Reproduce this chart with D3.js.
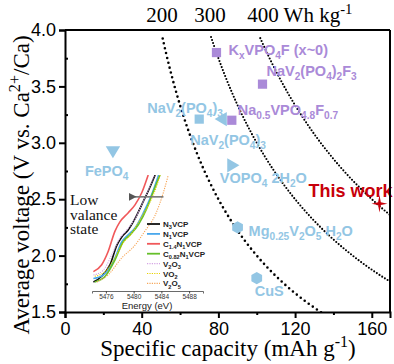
<!DOCTYPE html>
<html>
<head>
  <meta charset="utf-8">
  <title>Average voltage vs specific capacity</title>
  <script src="https://d3js.org/d3.v7.min.js"></script>
  <style>
    body { margin: 0; background: #fff; }
    svg text { font-family: "Liberation Sans", Arial, sans-serif; }
  </style>
</head>
<body>
<svg id="chart" width="394" height="364"></svg>
<script>
// ---- data ----
var materials = ['K_{x}VPO_{4}F (x~0)', 'NaV_{2}(PO_{4})_{2}F_{3}', 'Na_{0.5}VPO_{4.8}F_{0.7}',
                 'NaV_{2}(PO_{4})_{3}', 'NaV_{2}(PO_{4})_{3}', 'FePO_{4}', 'VOPO_{4} 2H_{2}O',
                 'Mg_{0.25}V_{2}O_{5} H_{2}O', 'CuS', 'This work'];
var capacity = [79, 103, 87, 70, 82, 25, 87, 90, 100, 164];   // mAh g-1
var voltage  = [3.80, 3.52, 3.20, 3.21, 3.21, 2.93, 2.80, 2.25, 1.80, 2.46]; // V
var family   = ['purple', 'purple', 'purple', 'blue', 'blue', 'blue', 'blue', 'blue', 'blue', 'red'];
var markers  = ['square', 'square', 'square', 'square', 'left', 'down', 'right', 'hex', 'hex', 'star'];

var energyLevels = [200, 300, 400];   // Wh kg-1 guide curves
var xTicks = [0, 40, 80, 120, 160];
var yTicks = [1.5, 2.0, 2.5, 3.0, 3.5, 4.0];

// inset XANES spectra (energy eV, normalised intensity)
var insetNames = ['N_{3}VCP', 'N_{1}VCP', 'C_{1.4}N_{1}VCP', 'C_{0.82}N_{1}VCP', 'V_{2}O_{3}', 'VO_{2}', 'V_{2}O_{5}'];
var insetE = [
  [5474.2, 5475.4, 5476.6, 5477.6, 5478.3, 5479.2, 5480.2, 5481.4, 5482.4, 5483.1],
  [5474.2, 5475.6, 5477.1, 5478.3, 5479.2, 5480.2, 5481.4, 5482.6, 5483.6],
  [5474.2, 5475.4, 5476.3, 5477.3, 5478.0, 5479.2, 5480.2, 5481.2, 5482.1],
  [5474.4, 5475.9, 5477.3, 5478.5, 5479.5, 5480.7, 5481.9, 5482.8, 5483.8],
  [5474.2, 5475.6, 5476.8, 5478.0, 5479.0, 5480.2, 5481.4, 5482.6, 5483.0],
  [5474.4, 5475.9, 5477.3, 5478.5, 5479.7, 5480.9, 5482.4, 5483.3, 5483.8],
  [5474.7, 5476.3, 5478.3, 5480.2, 5481.6, 5483.1, 5484.3, 5485.0]
];
var insetI = [
  [0.07, 0.12, 0.22, 0.39, 0.46, 0.52, 0.62, 0.77, 0.90, 1.0],
  [0.10, 0.13, 0.25, 0.42, 0.48, 0.54, 0.67, 0.83, 1.0],
  [0.16, 0.22, 0.33, 0.51, 0.59, 0.67, 0.74, 0.85, 1.0],
  [0.07, 0.12, 0.26, 0.42, 0.48, 0.57, 0.71, 0.85, 1.0],
  [0.13, 0.17, 0.30, 0.45, 0.52, 0.62, 0.77, 0.94, 1.0],
  [0.12, 0.16, 0.28, 0.41, 0.49, 0.61, 0.77, 0.90, 1.0],
  [0.07, 0.13, 0.28, 0.39, 0.51, 0.65, 0.85, 1.0]
];
var insetTicks = [5476, 5480, 5484, 5488];

// ---- layout ----
var colors = { blue: '#93c6e4', purple: '#aa8ad8', red: '#c8000a' };
var insetColors = ['#111111', '#4aa8ec', '#f0585a', '#66bf2a', '#d4a4e4', '#e8d200', '#f6a658'];
var insetDotted = [false, false, false, false, true, true, true];
// label offsets (px) relative to each marker
var labelDx = [12, 4, 6, -52, -32, -28, -12, 11, -2, -71];
var labelDy = [2, -8, -5, -6, 26, 25, 18, 9, 18, -7];

var svg = d3.select('#chart');
var pLeft = 65, pRight = 390, pTop = 30, pBottom = 312;
var serif = '"Liberation Serif", "Times New Roman", serif';

var x = d3.scaleLinear().domain([0, 169.5]).range([pLeft, pRight]);
var y = d3.scaleLinear().domain([1.5, 4.0]).range([pBottom, pTop]);

svg.append('clipPath').attr('id', 'plotclip')
  .append('rect').attr('x', pLeft).attr('y', pTop)
  .attr('width', pRight - pLeft).attr('height', pBottom - pTop);

// adds text with _{sub} and ^{sup} parts
function richText(sel, str, size) {
  var re = /_\{([^}]*)\}|\^\{([^}]*)\}/g, last = 0, m, back = 0;
  function plain(s) {
    var ts = sel.append('tspan').text(s);
    if (back) { ts.attr('dy', back); back = 0; }
  }
  while ((m = re.exec(str)) !== null) {
    if (m.index > last) plain(str.slice(last, m.index));
    var shift = m[1] !== undefined ? size * 0.28 : -size * 0.4;
    sel.append('tspan').attr('font-size', size * 0.7).attr('dy', shift + back)
      .text(m[1] !== undefined ? m[1] : m[2]);
    back = -shift;
    last = re.lastIndex;
  }
  if (last < str.length) plain(str.slice(last));
}

// iso-energy guide curves
var vSteps = d3.range(1.45, 3.96, 0.01);
energyLevels.forEach(function(e, k) {
  svg.append('path')
    .attr('clip-path', 'url(#plotclip)')
    .attr('d', d3.line().x(function(v) { return x(e / v); }).y(function(v) { return y(v); })(vSteps))
    .attr('fill', 'none').attr('stroke', '#000')
    .attr('stroke-width', k === 0 ? 2.6 : 2.1)
    .attr('stroke-linecap', 'round')
    .attr('stroke-dasharray', k === 0 ? '0,5' : '0,3.2');
});

// top energy labels
function topText(px, anchor) {
  return svg.append('text').attr('x', px).attr('y', 22).attr('text-anchor', anchor)
    .attr('font-size', 21).style('font-family', serif).attr('fill', '#000');
}
topText(x(200 / 3.95), 'middle').text('200');
topText(x(300 / 3.97), 'middle').text('300');
richText(topText(x(400 / 3.97) - 11, 'start'), '400 Wh kg^{-1}', 21);

// ---- inset ----
var xE = d3.scaleLinear().domain([5474, 5490]).range([92, 203]);
var yI = d3.scaleLinear().domain([0, 1]).range([290, 175]);
var inset = svg.append('g');
inset.append('clipPath').attr('id', 'insetclip')
  .append('rect').attr('x', 85).attr('y', 175).attr('width', 120).attr('height', 120);
var spec = d3.line().curve(d3.curveMonotoneX)
  .x(function(d) { return xE(d[0]); }).y(function(d) { return yI(d[1]); });
insetNames.forEach(function(n, i) {
  var pts = insetE[i].map(function(e, j) { return [e, insetI[i][j]]; });
  inset.append('path').attr('d', spec(pts)).attr('clip-path', 'url(#insetclip)')
    .attr('fill', 'none').attr('stroke', insetColors[i])
    .attr('stroke-width', insetDotted[i] ? 1.1 : 1.6)
    .attr('stroke-dasharray', insetDotted[i] ? '1.2,1.2' : null);
});
var eAxis = inset.append('g').attr('transform', 'translate(0,291)')
  .call(d3.axisBottom(xE).tickValues(insetTicks).tickFormat(d3.format('d')).tickSize(2.5).tickPadding(1));
eAxis.select('.domain').attr('stroke', '#444').attr('stroke-width', 0.8);
eAxis.selectAll('.tick line').attr('stroke', '#444');
eAxis.selectAll('text').attr('font-size', 6.5).attr('fill', '#333');
inset.append('text').attr('x', 147).attr('y', 308.5).attr('text-anchor', 'middle')
  .attr('font-size', 9.5).attr('fill', '#222').text('Energy (eV)');

// arrow
inset.append('defs').append('marker').attr('id', 'ah').attr('viewBox', '0 0 10 10')
  .attr('refX', 2).attr('refY', 5).attr('markerWidth', 5).attr('markerHeight', 5)
  .attr('orient', 'auto').append('path').attr('d', 'M10,0L0,5L10,10Z').attr('fill', '#555');
inset.append('line').attr('x1', xE(5484.3)).attr('x2', xE(5480.2))
  .attr('y1', yI(0.81)).attr('y2', yI(0.81))
  .attr('stroke', '#777').attr('stroke-width', 1.6).attr('marker-end', 'url(#ah)');

// legend
insetNames.forEach(function(n, i) {
  var ly = 224 + i * 9.9;
  inset.append('line').attr('x1', 147).attr('x2', 160).attr('y1', ly).attr('y2', ly)
    .attr('stroke', insetColors[i]).attr('stroke-width', insetDotted[i] ? 1.1 : 1.8)
    .attr('stroke-dasharray', insetDotted[i] ? '1.2,1.2' : null);
  var tx = inset.append('text').attr('x', 163).attr('y', ly + 3)
    .attr('font-size', 8).attr('font-weight', 'bold').attr('fill', '#222');
  richText(tx, n, 8);
});

var low = svg.append('text').attr('font-size', 15.5).attr('fill', '#111').style('font-family', serif);
['Low', 'valance', 'state'].forEach(function(w, i) {
  low.append('tspan').attr('x', 70).attr('y', 205 + i * 14.5).text(w);
});

// ---- markers ----
var hexType = { draw: function(c, s) {
  var r = Math.sqrt(s / 2.6);
  for (var k = 0; k < 6; k++) {
    var a = Math.PI / 3 * k + Math.PI / 6;
    k ? c.lineTo(r * Math.cos(a), r * Math.sin(a)) : c.moveTo(r * Math.cos(a), r * Math.sin(a));
  }
  c.closePath();
} };
var star4 = { draw: function(c, s) {
  var r = Math.sqrt(s), w = r * 0.17, h = r * 1.1;
  c.moveTo(0, -h); c.lineTo(w, -w); c.lineTo(r, 0); c.lineTo(w, w);
  c.lineTo(0, h); c.lineTo(-w, w); c.lineTo(-r, 0); c.lineTo(-w, -w); c.closePath();
} };
function tri(rot) {
  return { draw: function(c, s) {
    var r = Math.sqrt(s / 1.3);
    var pts = [[0, -r], [r * 0.95, r * 0.6], [-r * 0.95, r * 0.6]];
    pts.forEach(function(p, k) {
      var a = rot * Math.PI / 180;
      var px = p[0] * Math.cos(a) - p[1] * Math.sin(a), py = p[0] * Math.sin(a) + p[1] * Math.cos(a);
      k ? c.lineTo(px, py) : c.moveTo(px, py);
    });
    c.closePath();
  } };
}
var shapeTypes = { square: d3.symbolSquare, left: tri(-90), right: tri(90), down: tri(180), hex: hexType, star: star4 };
var shapeSizes = { square: 85, left: 75, right: 75, down: 75, hex: 100, star: 64 };

materials.forEach(function(m, i) {
  var px = x(capacity[i]), py = y(voltage[i]);
  svg.append('path')
    .attr('d', d3.symbol().type(shapeTypes[markers[i]]).size(shapeSizes[markers[i]])())
    .attr('transform', 'translate(' + px + ',' + py + ')')
    .attr('fill', colors[family[i]]);
  var fs = family[i] === 'red' ? 18 : 14.5;
  var t = svg.append('text').attr('x', px + labelDx[i]).attr('y', py + labelDy[i])
    .attr('font-size', fs).attr('font-weight', 'bold').attr('fill', colors[family[i]]);
  richText(t, m, fs);
});

// ---- axes ----
var yAxis = svg.append('g').attr('transform', 'translate(' + pLeft + ',0)')
  .call(d3.axisLeft(y).tickValues(yTicks).tickFormat(d3.format('.1f')).tickSize(6).tickPadding(3));
svg.append('g').attr('transform', 'translate(' + pLeft + ',0)')
  .call(d3.axisRight(y).tickValues([1.75, 2.25, 2.75, 3.25, 3.75]).tickSize(3).tickFormat(''))
  .select('.domain').remove();
var xAxis = svg.append('g').attr('transform', 'translate(0,' + pBottom + ')')
  .call(d3.axisBottom(x).tickValues(xTicks).tickSize(6).tickPadding(4));
svg.append('g').attr('transform', 'translate(0,' + pBottom + ')')
  .call(d3.axisBottom(x).tickValues([20, 60, 100, 140]).tickSize(3).tickFormat(''))
  .select('.domain').remove();
svg.selectAll('.domain, .tick line').filter(function() {
  return !inset.node().contains(this);
}).attr('stroke', '#000').attr('stroke-width', 2);
yAxis.selectAll('text').attr('font-size', 18).attr('fill', '#000');
xAxis.selectAll('text').attr('font-size', 18).attr('fill', '#000');
svg.append('line').attr('x1', pLeft).attr('x2', pRight).attr('y1', pTop).attr('y2', pTop)
  .attr('stroke', '#000').attr('stroke-width', 2);
svg.append('line').attr('x1', pRight).attr('x2', pRight).attr('y1', pTop).attr('y2', pBottom)
  .attr('stroke', '#000').attr('stroke-width', 2);

// axis titles
var xt = svg.append('text').attr('x', 228).attr('y', 356).attr('text-anchor', 'middle')
  .attr('font-size', 23).style('font-family', serif).attr('fill', '#000');
richText(xt, 'Specific capacity (mAh g^{-1})', 23);
var yt = svg.append('text').attr('transform', 'translate(29,185) rotate(-90)')
  .attr('text-anchor', 'middle').attr('font-size', 23).style('font-family', serif).attr('fill', '#000');
richText(yt, 'Average voltage (V vs. Ca^{2+}/Ca)', 23);
</script>
</body>
</html>
